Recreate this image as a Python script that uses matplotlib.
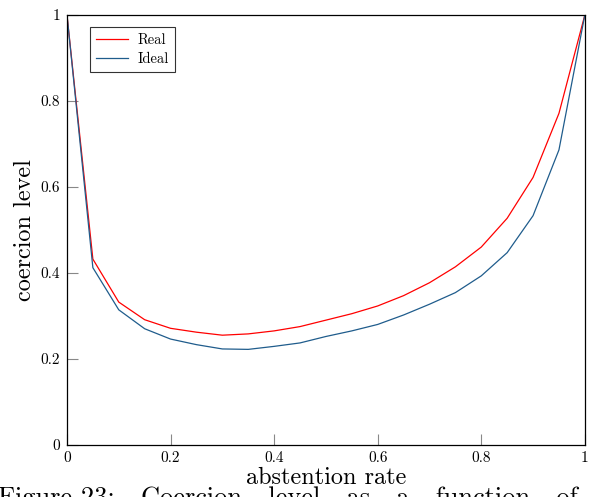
import numpy as np
import matplotlib
matplotlib.use('Agg')
from matplotlib import pyplot as plt

# abstention rate and the two coercion curves
abstention = [0.0, 0.05, 0.1, 0.15, 0.2, 0.25, 0.3, 0.35, 0.4, 0.45, 0.5,
              0.55, 0.6, 0.65, 0.7, 0.75, 0.8, 0.85, 0.9, 0.95, 1.0]
real = [1.0, 0.432, 0.332, 0.291, 0.271, 0.262, 0.255, 0.258, 0.265, 0.275, 0.290,
        0.305, 0.323, 0.347, 0.377, 0.414, 0.460, 0.527, 0.622, 0.771, 1.0]
ideal = [1.0, 0.412, 0.314, 0.270, 0.246, 0.233, 0.223, 0.222, 0.229, 0.237, 0.252,
         0.265, 0.280, 0.302, 0.327, 0.354, 0.393, 0.447, 0.533, 0.686, 1.0]

xticks = [0, 0.2, 0.4, 0.6, 0.8, 1]
xticklabels = ['0', '0.2', '0.4', '0.6', '0.8', '1']
yticks = [0, 0.2, 0.4, 0.6, 0.8, 1]
yticklabels = ['0', '0.2', '0.4', '0.6', '0.8', '1']

plt.rcParams['font.family'] = ['cmr10', 'DejaVu Serif']
plt.rcParams['axes.formatter.use_mathtext'] = True

fig = plt.figure(figsize=(5.98, 4.97), dpi=100)
ax = fig.add_axes([0.112, 0.105, 0.866, 0.865])

ax.plot(abstention, real, color='#ff0000', lw=0.9, label='Real')
ax.plot(abstention, ideal, color='#1f5c8c', lw=0.9, label='Ideal')

ax.set_xlim(0, 1)
ax.set_ylim(0, 1)
ax.set_xticks(xticks)
ax.set_xticklabels(xticklabels)
ax.set_yticks(yticks)
ax.set_yticklabels(yticklabels)
ax.tick_params(direction='in', length=8, width=0.8, color='#888888',
               labelsize=11, pad=5)
for s in ax.spines.values():
    s.set_linewidth(0.9)

ax.set_xlabel('abstention rate', fontsize=17.5, labelpad=1)
ax.set_ylabel('coercion level', fontsize=17.5, labelpad=3)

leg = ax.legend(loc='upper left', bbox_to_anchor=(0.03, 0.99), fontsize=10.5,
                frameon=True, fancybox=False, edgecolor='black',
                handlelength=2.2, borderpad=0.45, labelspacing=0.35,
                handletextpad=0.6)
leg.get_frame().set_linewidth(0.8)

# caption cut off at the bottom of the image
fig.text(-0.004, 1 - 486 / 497, 'Figure 23:   Coercion   level   as   a   function   of',
         fontsize=19, va='top', ha='left')

fig.savefig('out.png', dpi=100)
